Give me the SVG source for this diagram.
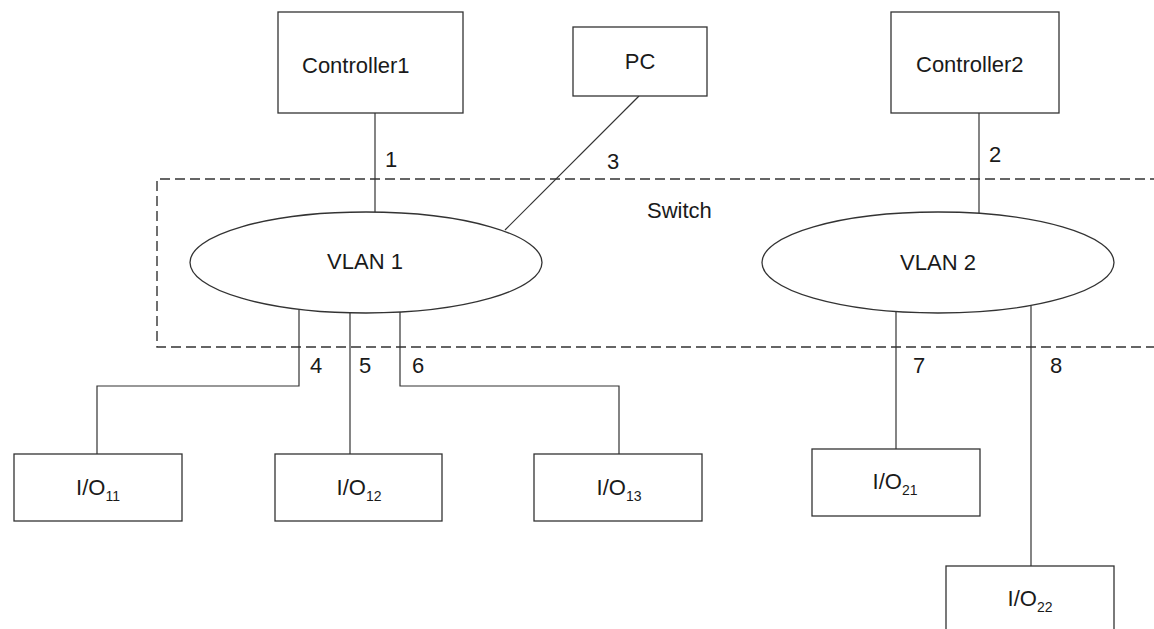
<svg xmlns="http://www.w3.org/2000/svg" width="1154" height="629" viewBox="0 0 1154 629">
<style>
.box{fill:#fff;stroke:#333;stroke-width:1.3}
.conn{fill:none;stroke:#333;stroke-width:1.2}
.sw{fill:none;stroke:#333;stroke-width:1.4;stroke-dasharray:10 5}
text{font-family:"Liberation Sans",Arial,sans-serif;font-size:22px;fill:#1a1a1a}
.m{text-anchor:middle}
.sub{font-size:14px}
</style>
<rect width="1154" height="629" fill="#fff"/>
<g id="switch">
<path class="sw" d="M1160,179 H157 V347 H1160"/>
<text x="647" y="218">Switch</text>
</g>
<g id="connectors">
<path class="conn" d="M375,113 V212"/>
<path class="conn" d="M979,113 V213"/>
<path class="conn" d="M639,96 L505,230"/>
<path class="conn" d="M299,310 V386 H97 V454"/>
<path class="conn" d="M350,313 V454"/>
<path class="conn" d="M400,312 V386 H619 V454"/>
<path class="conn" d="M896,312 V449"/>
<path class="conn" d="M1031,306 V566"/>
<text class="m" x="391" y="167">1</text>
<text class="m" x="995" y="162">2</text>
<text class="m" x="613" y="169">3</text>
<text class="m" x="316" y="373">4</text>
<text class="m" x="365" y="373">5</text>
<text class="m" x="418" y="373">6</text>
<text class="m" x="919" y="373">7</text>
<text class="m" x="1056" y="373">8</text>
</g>
<g id="controller1">
<rect class="box" x="278" y="12" width="185" height="101"/>
<text x="302" y="73">Controller1</text>
</g>
<g id="pc">
<rect class="box" x="573" y="27" width="134" height="69"/>
<text class="m" x="640" y="69">PC</text>
</g>
<g id="controller2">
<rect class="box" x="891" y="12" width="168" height="101"/>
<text x="916" y="72">Controller2</text>
</g>
<g id="vlan1">
<ellipse class="box" cx="366" cy="262.5" rx="176" ry="50.5"/>
<text class="m" x="365" y="269">VLAN 1</text>
</g>
<g id="vlan2">
<ellipse class="box" cx="938" cy="262.5" rx="176" ry="50.5"/>
<text class="m" x="938" y="270">VLAN 2</text>
</g>
<g id="io11">
<rect class="box" x="14" y="454" width="168" height="67"/>
<text class="m" x="98" y="495">I/O<tspan class="sub" dy="6">11</tspan></text>
</g>
<g id="io12">
<rect class="box" x="275" y="454" width="167" height="67"/>
<text class="m" x="359" y="495">I/O<tspan class="sub" dy="6">12</tspan></text>
</g>
<g id="io13">
<rect class="box" x="534" y="454" width="168" height="67"/>
<text class="m" x="619" y="495">I/O<tspan class="sub" dy="6">13</tspan></text>
</g>
<g id="io21">
<rect class="box" x="812" y="449" width="168" height="67"/>
<text class="m" x="895" y="489">I/O<tspan class="sub" dy="6">21</tspan></text>
</g>
<g id="io22">
<rect class="box" x="946" y="566" width="168" height="67"/>
<text class="m" x="1030" y="606">I/O<tspan class="sub" dy="6">22</tspan></text>
</g>
</svg>
